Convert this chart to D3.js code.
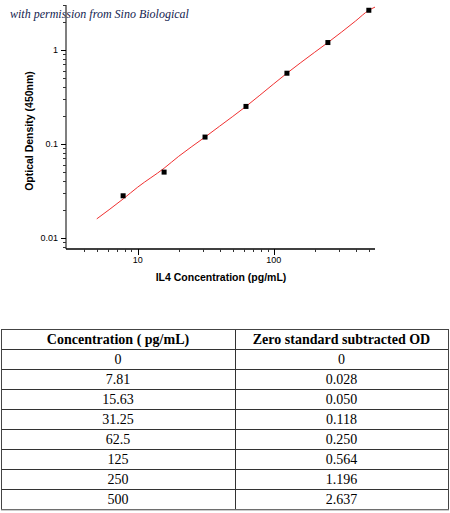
<!DOCTYPE html>
<html lang="en">
<head>
<meta charset="utf-8">
<title>IL4 standard curve</title>
<script src="https://d3js.org/d3.v7.min.js"></script>
<style>
  body { margin: 0; background: #fff; }
  svg { display: block; }
  .tick-label { font-family: Arial, "Liberation Sans", sans-serif; font-size: 9px; fill: #000; }
  .axis-title { font-family: Arial, "Liberation Sans", sans-serif; font-size: 10.5px; font-weight: bold; fill: #000; }
  .credit { font-family: "Liberation Serif", "DejaVu Serif", serif; font-style: italic; font-size: 12px; fill: #14234f; }
  .cell { font-family: "Liberation Serif", "Times New Roman", serif; font-size: 14px; fill: #000; text-anchor: middle; }
  .head { font-weight: bold; }
</style>
</head>
<body>
<svg id="chart" width="450" height="513"></svg>
<script>
// measured standards
const concentrations = [7.81, 15.63, 31.25, 62.5, 125, 250, 500];
const odValues = [0.028, 0.050, 0.118, 0.250, 0.564, 1.196, 2.637];

// fitted curve
const curveConc = [5, 7.81, 10, 15.63, 20, 31.25, 40, 62.5, 100, 125, 200, 250, 400, 500, 555];
const curveOd = [0.0159, 0.0259, 0.0346, 0.055, 0.0736, 0.118, 0.154, 0.250, 0.435, 0.564, 0.943, 1.196, 2.03, 2.637, 2.85];

// axis ticks
const xMajor = [10, 100];
const xMinor = [4, 5, 6, 7, 8, 9, 20, 30, 40, 50, 60, 70, 80, 90, 200, 300, 400, 500];
const yMajor = [0.01, 0.1, 1];
const yMinor = [0.008, 0.009, 0.02, 0.03, 0.04, 0.05, 0.06, 0.07, 0.08, 0.09,
                0.2, 0.3, 0.4, 0.5, 0.6, 0.7, 0.8, 0.9, 2, 3];

// table
const tableHeaders = ["Concentration ( pg/mL)", "Zero standard subtracted OD"];
const tableConc = ["0", "7.81", "15.63", "31.25", "62.5", "125", "250", "500"];
const tableOd = ["0", "0.028", "0.050", "0.118", "0.250", "0.564", "1.196", "2.637"];

const svg = d3.select('#chart');

const plot = { left: 66, right: 375, top: 5, bottom: 249 };

const x = d3.scaleLog().domain([2.97, 555]).range([plot.left, plot.right]);
const y = d3.scaleLog().domain([0.0076, 3.0]).range([plot.bottom, plot.top]);

// credit line
svg.append('text')
  .attr('class', 'credit')
  .attr('x', 10)
  .attr('y', 18)
  .text('with permission from Sino Biological');

// y axis
svg.append('line')
  .attr('x1', plot.left).attr('x2', plot.left)
  .attr('y1', plot.top).attr('y2', plot.bottom)
  .attr('stroke', '#555').attr('stroke-width', 1.5);

svg.selectAll('.ymin')
  .data(yMinor)
  .enter().append('line')
  .attr('x1', plot.left - 3).attr('x2', plot.left)
  .attr('y1', d => Math.round(y(d)) + 0.5).attr('y2', d => Math.round(y(d)) + 0.5)
  .attr('stroke', '#333');

svg.selectAll('.ymaj')
  .data(yMajor)
  .enter().append('line')
  .attr('x1', plot.left - 5).attr('x2', plot.left)
  .attr('y1', d => Math.round(y(d)) + 0.5).attr('y2', d => Math.round(y(d)) + 0.5)
  .attr('stroke', '#000');

svg.selectAll('.ylab')
  .data(yMajor)
  .enter().append('text')
  .attr('class', 'tick-label')
  .attr('x', plot.left - 8)
  .attr('y', d => y(d) + 3)
  .attr('text-anchor', 'end')
  .text(d => d3.format('')(d));

// x axis
svg.append('line')
  .attr('x1', plot.left).attr('x2', plot.right)
  .attr('y1', plot.bottom).attr('y2', plot.bottom)
  .attr('stroke', '#000').attr('stroke-width', 1.5);

svg.selectAll('.xmin')
  .data(xMinor)
  .enter().append('line')
  .attr('x1', d => Math.round(x(d)) + 0.5).attr('x2', d => Math.round(x(d)) + 0.5)
  .attr('y1', plot.bottom).attr('y2', plot.bottom + 3)
  .attr('stroke', '#333');

svg.selectAll('.xmaj')
  .data(xMajor)
  .enter().append('line')
  .attr('x1', d => Math.round(x(d)) + 0.5).attr('x2', d => Math.round(x(d)) + 0.5)
  .attr('y1', plot.bottom).attr('y2', plot.bottom + 6)
  .attr('stroke', '#000');

svg.selectAll('.xlab')
  .data(xMajor)
  .enter().append('text')
  .attr('class', 'tick-label')
  .attr('x', d => x(d))
  .attr('y', plot.bottom + 14)
  .attr('text-anchor', 'middle')
  .text(d => d);

// axis titles
svg.append('text')
  .attr('class', 'axis-title')
  .attr('x', 221)
  .attr('y', 281)
  .attr('text-anchor', 'middle')
  .text('IL4 Concentration (pg/mL)');

svg.append('text')
  .attr('class', 'axis-title')
  .attr('transform', 'translate(33,131) rotate(-90)')
  .attr('text-anchor', 'middle')
  .text('Optical Density (450nm)');

// fitted curve
const curveData = curveConc.map((c, i) => [c, curveOd[i]]);
svg.append('path')
  .datum(curveData)
  .attr('fill', 'none')
  .attr('stroke', '#f03030')
  .attr('stroke-width', 1)
  .attr('d', d3.line()
    .x(d => x(d[0]))
    .y(d => y(d[1]))
    .curve(d3.curveMonotoneX));

// standards
const pts = concentrations.map((c, i) => [c, odValues[i]]);
svg.selectAll('.pt')
  .data(pts)
  .enter().append('rect')
  .attr('x', d => x(d[0]) - 2.5)
  .attr('y', d => y(d[1]) - 2.5)
  .attr('width', 5)
  .attr('height', 5)
  .attr('fill', '#000');

// table
const tbl = { left: 1, mid: 235, right: 448, top: 329, headH: 20, rowH: 20 };
const rowsTop = tbl.top + tbl.headH;
const tblBottom = rowsTop + tbl.rowH * tableConc.length;

const tableG = svg.append('g');

// horizontal rules
const rules = d3.range(tableConc.length).map(i => rowsTop + i * tbl.rowH);
tableG.selectAll('.hr')
  .data(rules)
  .enter().append('line')
  .attr('x1', tbl.left).attr('x2', tbl.right)
  .attr('y1', d => d + 0.5).attr('y2', d => d + 0.5)
  .attr('stroke', '#333');

tableG.append('line')
  .attr('x1', tbl.mid + 0.5).attr('x2', tbl.mid + 0.5)
  .attr('y1', tbl.top).attr('y2', tblBottom)
  .attr('stroke', '#333');

tableG.append('rect')
  .attr('x', tbl.left + 0.5).attr('y', tbl.top + 0.5)
  .attr('width', tbl.right - tbl.left).attr('height', tblBottom - tbl.top)
  .attr('fill', 'none')
  .attr('stroke', '#444');

tableG.append('line')
  .attr('x1', tbl.left).attr('x2', tbl.right + 1)
  .attr('y1', tblBottom + 1).attr('y2', tblBottom + 1)
  .attr('stroke', '#999');

const colCenters = [(tbl.left + tbl.mid) / 2, (tbl.mid + tbl.right) / 2];

tableG.selectAll('.hd')
  .data(tableHeaders)
  .enter().append('text')
  .attr('class', 'cell head')
  .attr('x', (d, i) => colCenters[i])
  .attr('y', tbl.top + 15)
  .text(d => d);

tableG.selectAll('.c0')
  .data(tableConc)
  .enter().append('text')
  .attr('class', 'cell')
  .attr('x', colCenters[0])
  .attr('y', (d, i) => rowsTop + i * tbl.rowH + 15)
  .text(d => d);

tableG.selectAll('.c1')
  .data(tableOd)
  .enter().append('text')
  .attr('class', 'cell')
  .attr('x', colCenters[1])
  .attr('y', (d, i) => rowsTop + i * tbl.rowH + 15)
  .text(d => d);
</script>
</body>
</html>
